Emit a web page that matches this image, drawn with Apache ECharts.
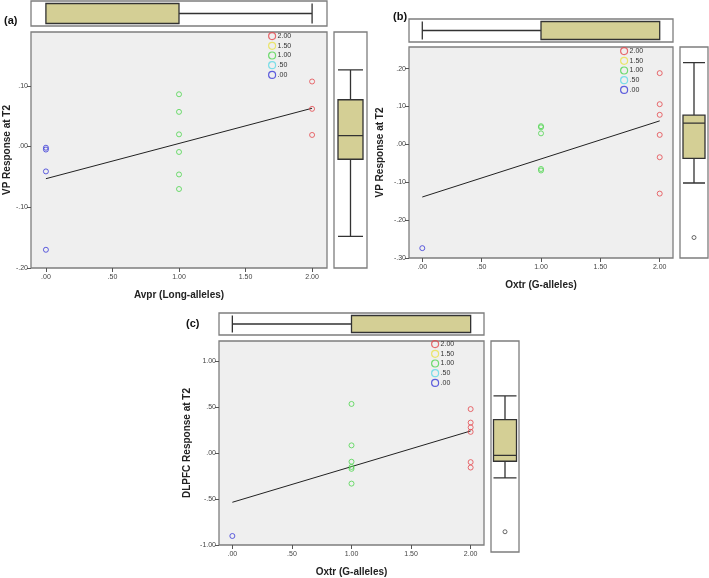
<!DOCTYPE html>
<html>
<head>
<meta charset="utf-8">
<script src="https://cdn.jsdelivr.net/npm/echarts@6/dist/echarts.min.js"></script>
<style>
  html, body { margin: 0; padding: 0; background: #fff; }
  #chart { width: 709px; height: 578px; }
</style>
</head>
<body>
<div id="chart"></div>
<script>
// group values (y at each allele count)
var groupNames = ['2.00', '1.50', '1.00', '.50', '.00'];
var groupX = [2, 1.5, 1, 0.5, 0];

// (a) Avpr vs VP response
var aTwoY = [0.107, 0.062, 0.019];
var aOneY = [0.086, 0.057, 0.020, -0.009, -0.046, -0.070];
var aZeroY = [-0.002, -0.005, -0.041, -0.170];
var aFit = [-0.053, 0.063];
var aTopBox = [0, 0, 0, 1, 2];
var aRightBox = [-0.148, -0.021, 0.018, 0.077, 0.126];
var aOutliers = [];

// (b) Oxtr vs VP response
var bTwoY = [0.188, 0.106, 0.078, 0.025, -0.034, -0.130];
var bOneY = [0.048, 0.045, 0.029, -0.065, -0.069];
var bZeroY = [-0.274];
var bFit = [-0.139, 0.062];
var bTopBox = [0, 1, 2, 2, 2];
var bRightBox = [-0.102, -0.037, 0.056, 0.077, 0.216];
var bOutliers = [-0.246];

// (c) Oxtr vs DLPFC response
var cTwoY = [0.479, 0.332, 0.280, 0.231, -0.098, -0.157];
var cOneY = [0.535, 0.084, -0.094, -0.150, -0.171, -0.332];
var cZeroY = [-0.902];
var cFit = [-0.535, 0.241];
var cTopBox = [0, 1, 2, 2, 2];
var cRightBox = [-0.220, -0.045, 0.017, 0.392, 0.643];
var cOutliers = [-0.787];

var xTicks = [0, 0.5, 1, 1.5, 2];
var aYTicks = [-0.2, -0.1, 0, 0.1];
var bYTicks = [-0.3, -0.2, -0.1, 0, 0.1, 0.2];
var cYTicks = [-1, -0.5, 0, 0.5, 1];

var groupColors = ['#e5484d', '#e9e24c', '#4fd64f', '#5fd9e6', '#3a3ad8'];
var boxFill = '#d4cf95';
var frame = '#7d7d7d';
var font = 'Liberation Sans, Arial, sans-serif';

var chart = echarts.init(document.getElementById('chart'));

function spss(v) {
  var s = Math.abs(v).toFixed(2);
  if (s.charAt(0) === '0') s = s.slice(1);
  return (v < -1e-9 ? '-' : '') + s;
}

var panels = [
  { ys: [aTwoY, [], aOneY, [], aZeroY], fit: aFit, top: aTopBox, right: aRightBox, out: aOutliers,
    yTicks: aYTicks, yMin: -0.2, yMax: 0.1885, xName: 'Avpr (Long-alleles)', yName: 'VP Response at T2',
    grid: { left: 31, top: 32, width: 296, height: 236 }, topGrid: { left: 31, top: 1, width: 296, height: 25 },
    rightGrid: { left: 334, top: 32, width: 33, height: 236 }, boxW: 20, rBoxW: 25,
    xGap: 22, yGap: 18, legend: { left: 268, top: 32 }, label: '(a)', labelPos: { left: 4, top: 15 } },
  { ys: [bTwoY, [], bOneY, [], bZeroY], fit: bFit, top: bTopBox, right: bRightBox, out: bOutliers,
    yTicks: bYTicks, yMin: -0.3, yMax: 0.257, xName: 'Oxtr (G-alleles)', yName: 'VP Response at T2',
    grid: { left: 409, top: 47, width: 264, height: 211 }, topGrid: { left: 409, top: 19, width: 264, height: 23 },
    rightGrid: { left: 680, top: 47, width: 28, height: 211 }, boxW: 18, rBoxW: 22,
    xGap: 22, yGap: 24, legend: { left: 620, top: 47 }, label: '(b)', labelPos: { left: 393, top: 11 } },
  { ys: [cTwoY, [], cOneY, [], cZeroY], fit: cFit, top: cTopBox, right: cRightBox, out: cOutliers,
    yTicks: cYTicks, yMin: -1, yMax: 1.22, xName: 'Oxtr (G-alleles)', yName: 'DLPFC Response at T2',
    grid: { left: 219, top: 341, width: 265, height: 211 }, topGrid: { left: 219, top: 313, width: 265, height: 22 },
    rightGrid: { left: 491, top: 341, width: 28, height: 211 }, boxW: 17, rBoxW: 23,
    xGap: 22, yGap: 27, legend: { left: 431, top: 340 }, label: '(c)', labelPos: { left: 186, top: 318 } }
];

var grids = [], xAxes = [], yAxes = [], series = [], legends = [], titles = [];
var hidden = { show: false };

panels.forEach(function (p, i) {
  // main scatter grid: index i; top box: 3 + i; right box: 6 + i
  grids[i] = Object.assign({ show: true, backgroundColor: '#efefef', borderColor: frame, borderWidth: 1.3 }, p.grid);
  grids[3 + i] = Object.assign({ show: true, backgroundColor: '#fff', borderColor: frame, borderWidth: 1.3 }, p.topGrid);
  grids[6 + i] = Object.assign({ show: true, backgroundColor: '#fff', borderColor: frame, borderWidth: 1.3 }, p.rightGrid);

  xAxes[i] = {
    type: 'value', gridIndex: i, min: -0.112, max: 2.112,
    name: p.xName, nameLocation: 'middle', nameGap: p.xGap,
    nameTextStyle: { fontFamily: font, fontWeight: 'bold', fontSize: 10, color: '#222' },
    axisLine: { show: false, onZero: false }, splitLine: { show: false },
    axisTick: { show: true, length: 4, customValues: xTicks, lineStyle: { color: '#555' } },
    axisLabel: { customValues: xTicks, formatter: spss, fontFamily: font, fontSize: 7, color: '#444', margin: 6 }
  };
  yAxes[i] = {
    type: 'value', gridIndex: i, min: p.yMin, max: p.yMax,
    name: p.yName, nameLocation: 'middle', nameGap: p.yGap,
    nameTextStyle: { fontFamily: font, fontWeight: 'bold', fontSize: 10, color: '#222' },
    axisLine: { show: false, onZero: false }, splitLine: { show: false },
    axisTick: { show: true, length: 4, customValues: p.yTicks, lineStyle: { color: '#555' } },
    axisLabel: { customValues: p.yTicks, formatter: spss, fontFamily: font, fontSize: 7, color: '#444', margin: 3 }
  };
  // top box: horizontal, shares x range
  xAxes[3 + i] = { type: 'value', gridIndex: 3 + i, min: -0.112, max: 2.112, show: false, splitLine: hidden };
  yAxes[3 + i] = { type: 'category', gridIndex: 3 + i, data: ['x'], show: false };
  // right box: vertical, shares y range
  xAxes[6 + i] = { type: 'category', gridIndex: 6 + i, data: ['y'], show: false };
  yAxes[6 + i] = { type: 'value', gridIndex: 6 + i, min: p.yMin, max: p.yMax, show: false, splitLine: hidden };

  groupNames.forEach(function (name, g) {
    series.push({
      type: 'scatter', name: name, xAxisIndex: i, yAxisIndex: i,
      symbol: 'circle', symbolSize: 5,
      itemStyle: { color: 'rgba(255,255,255,0)', borderColor: groupColors[g], borderWidth: 1 },
      emphasis: { disabled: true },
      data: p.ys[g].map(function (y) { return [groupX[g], y]; }),
      z: 3
    });
  });

  series.push({
    type: 'line', xAxisIndex: i, yAxisIndex: i, symbol: 'none',
    lineStyle: { color: '#222', width: 1 },
    data: [[0, p.fit[0]], [2, p.fit[1]]], z: 2
  });

  series.push({
    type: 'boxplot', xAxisIndex: 3 + i, yAxisIndex: 3 + i,
    boxWidth: [p.boxW, p.boxW],
    itemStyle: { color: boxFill, borderColor: '#333', borderWidth: 1.3 },
    data: [p.top]
  });
  series.push({
    type: 'boxplot', xAxisIndex: 6 + i, yAxisIndex: 6 + i,
    boxWidth: [p.rBoxW, p.rBoxW],
    itemStyle: { color: boxFill, borderColor: '#333', borderWidth: 1.3 },
    data: [p.right]
  });
  series.push({
    type: 'scatter', xAxisIndex: 6 + i, yAxisIndex: 6 + i, symbolSize: 4,
    itemStyle: { color: 'rgba(255,255,255,0)', borderColor: '#444', borderWidth: 1 },
    data: p.out.map(function (y) { return ['y', y]; })
  });

  legends.push({
    data: groupNames, orient: 'vertical', left: p.legend.left, top: p.legend.top,
    padding: 0, itemGap: 1.5, itemWidth: 7, itemHeight: 7, icon: 'circle',
    selectedMode: false,
    itemStyle: { borderWidth: 1.2 },
    textStyle: { fontFamily: font, fontSize: 7, color: '#333', padding: [0, 0, 0, -3] }
  });

  titles.push({
    text: p.label, left: p.labelPos.left, top: p.labelPos.top, padding: 0,
    textStyle: { fontFamily: font, fontWeight: 'bold', fontSize: 11, color: '#111' }
  });
});

var option = {
  animation: false,
  title: titles,
  legend: legends,
  grid: grids,
  xAxis: xAxes,
  yAxis: yAxes,
  series: series
};

chart.setOption(option);
</script>
</body>
</html>
